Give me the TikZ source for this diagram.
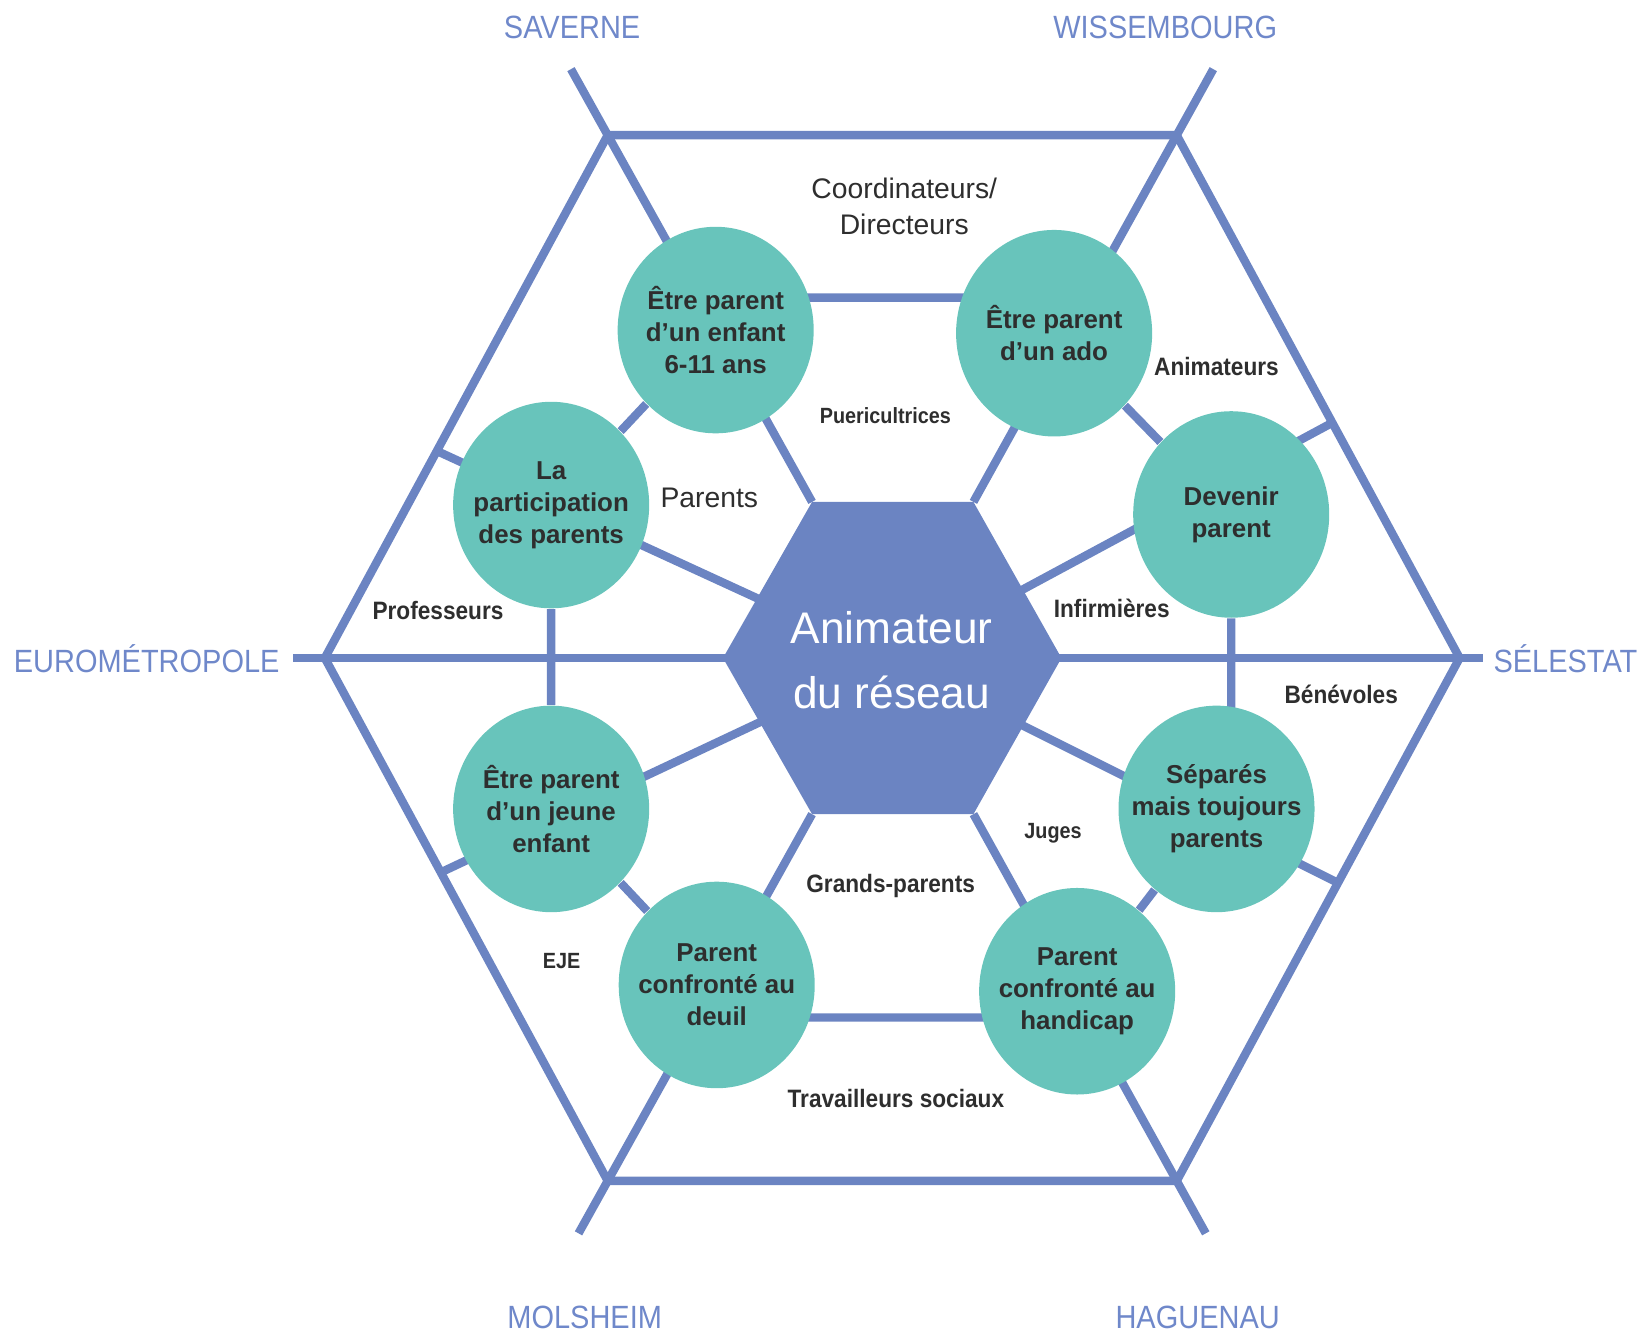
\documentclass[tikz,border=0pt]{standalone}
\usepackage{fontspec}
\setmainfont{Liberation Sans}
\newfontfamily\cityfont[FakeStretch=0.9]{Liberation Sans}
\newfontfamily\rolefont[FakeStretch=0.9]{Liberation Sans}
\usepackage{xcolor}
\usepackage{tikz}
\usetikzlibrary{shapes.geometric, calc, backgrounds}

\definecolor{webblue}{HTML}{6B84C2}
\definecolor{circteal}{HTML}{68C4BB}
\definecolor{cityblue}{HTML}{6F88CA}
\definecolor{inktext}{HTML}{2E2E2E}

\begin{document}
\begin{tikzpicture}[x=0.01cm, y=-0.01cm,
                  web/.style={draw=webblue, line width=0.08cm},
                  pcirc/.style={ellipse, fill=circteal, minimum width=1.87cm,
                      minimum height=1.97cm, inner sep=0pt},
                  ptext/.style={text=inktext, align=center,
                      font=\bfseries\fontsize{0.247cm}{0.305cm}\selectfont},
                  city/.style={text=cityblue, anchor=base,
                      font=\cityfont\fontsize{0.307cm}{0.36cm}\selectfont},
                  role/.style={text=inktext, anchor=base,
                      font=\rolefont\bfseries\fontsize{0.24cm}{0.3cm}\selectfont},
                  rolesm/.style={role,
                      font=\rolefont\bfseries\fontsize{0.21cm}{0.26cm}\selectfont},
                  rolebig/.style={text=inktext, align=center,
                      font=\fontsize{0.27cm}{0.35cm}\selectfont}]
                  \useasboundingbox (0,0) rectangle (1568,1270);
                  % outer hexagon and hub corners
                  \coordinate (oTL) at (580,129);
                  \coordinate (oTR) at (1123,129);
                  \coordinate (oR) at (1393,628);
                  \coordinate (oBR) at (1123,1127);
                  \coordinate (oBL) at (580,1127);
                  \coordinate (oL) at (310,628);
                  \coordinate (eL) at (280,628);
                  \coordinate (eR) at (1415,628);
                  \coordinate (hTL) at (775,479);
                  \coordinate (hTR) at (929,479);
                  \coordinate (hR) at (1013,628);
                  \coordinate (hBR) at (929,777);
                  \coordinate (hBL) at (775,777);
                  \coordinate (hL) at (690,628);
                  \coordinate (p4) at ($(oL)!0.396!(oTL)$);
                  \coordinate (p5) at ($(oL)!0.41!(oBL)$);
                  \coordinate (p3) at ($(oR)!0.45!(oTR)$);
                  \coordinate (p8) at ($(oR)!0.43!(oBR)$);
                  \node[text=white, align=center,
                      font=\fontsize{0.422cm}{0.62cm}\selectfont] (hub) at (851,630)
                  {Animateur\\du réseau};
                  % themes
                  \foreach \n/\p/\t in {
                      c1/{683,315}/{Être parent\\d’un enfant\\6-11 ans},
                      c2/{1006,318}/{Être parent\\d’un ado},
                      c3/{1175,491}/{Devenir\\parent},
                      c4/{526,482}/{La\\participation\\des parents},
                      c5/{526,772}/{Être parent\\d’un jeune\\enfant},
                      c6/{684,940}/{Parent\\confronté au\\deuil},
                      c7/{1028,946}/{Parent\\confronté au\\handicap},
                      c8/{1161,772}/{Séparés\\mais toujours\\parents}}
                  \node[pcirc, label={[ptext]center:{\t}}] (\n) at (\p) {};
                  \begin{scope}[on background layer]
                  \draw[web] (oTL) -- (oTR) -- (oR) -- (oBR) -- (oBL) -- (oL) -- cycle;
                  \foreach \h/\o/\f in {hTL/oTL/1.18, hTR/oTR/1.18, hBL/oBL/1.143,
                      hBR/oBR/1.143}
                  \draw[web] (\h) -- ($(\h)!\f!(\o)$);
                  \draw[web] (eL) -- (eR);
                  \foreach \c in {p3,p4,p5,p8}
                  \draw[web] (hub.center) -- (\c);
                  \draw[web] ([yshift=0.31cm]c1.center) -- ([yshift=0.34cm]c2.center);
                  \draw[web] ([yshift=-0.31cm]c6.center) -- ([yshift=-0.25cm]c7.center);
                  \draw[web] (c1) -- (c4) -- (c5) -- (c6);
                  \draw[web] (c2) -- (c3) -- (c3 |- c8);
                  \draw[web] (c8) -- (c7);
                  \fill[webblue] (hL) -- (hTL) -- (hTR) -- (hR) -- (hBR) -- (hBL) -- cycle;
                  \end{scope}
                  % professions
                  \node[rolebig] (coord) at (863,197) {Coordinateurs/\\Directeurs};
                  \node[rolebig, anchor=base] (parents) at (677,484) {Parents};
                  \node[rolesm] (puer) at (845,404) {Puericultrices};
                  \node[role] (anim) at (1161,358) {Animateurs};
                  \node[role] (infirm) at (1061,589) {Infirmières};
                  \node[role] (prof) at (418,591) {Professeurs};
                  \node[role] (benev) at (1280,671) {Bénévoles};
                  \node[rolesm] (juges) at (1005,800) {Juges};
                  \node[role] (grands) at (850,852) {Grands-parents};
                  \node[rolesm] (eje) at (536,924) {EJE};
                  \node[role] (travail) at (855,1057) {Travailleurs sociaux};
                  % territories
                  \node[city] (saverne) at (546,37) {SAVERNE};
                  \node[city] (wissem) at (1112,37) {WISSEMBOURG};
                  \node[city] (eurom) at (140,642) {EUROMÉTROPOLE};
                  \node[city] (selest) at (1494,642) {SÉLESTAT};
                  \node[city] (molsh) at (558,1268) {MOLSHEIM};
                  \node[city] (haguen) at (1143,1268) {HAGUENAU};
\end{tikzpicture}
\end{document}
